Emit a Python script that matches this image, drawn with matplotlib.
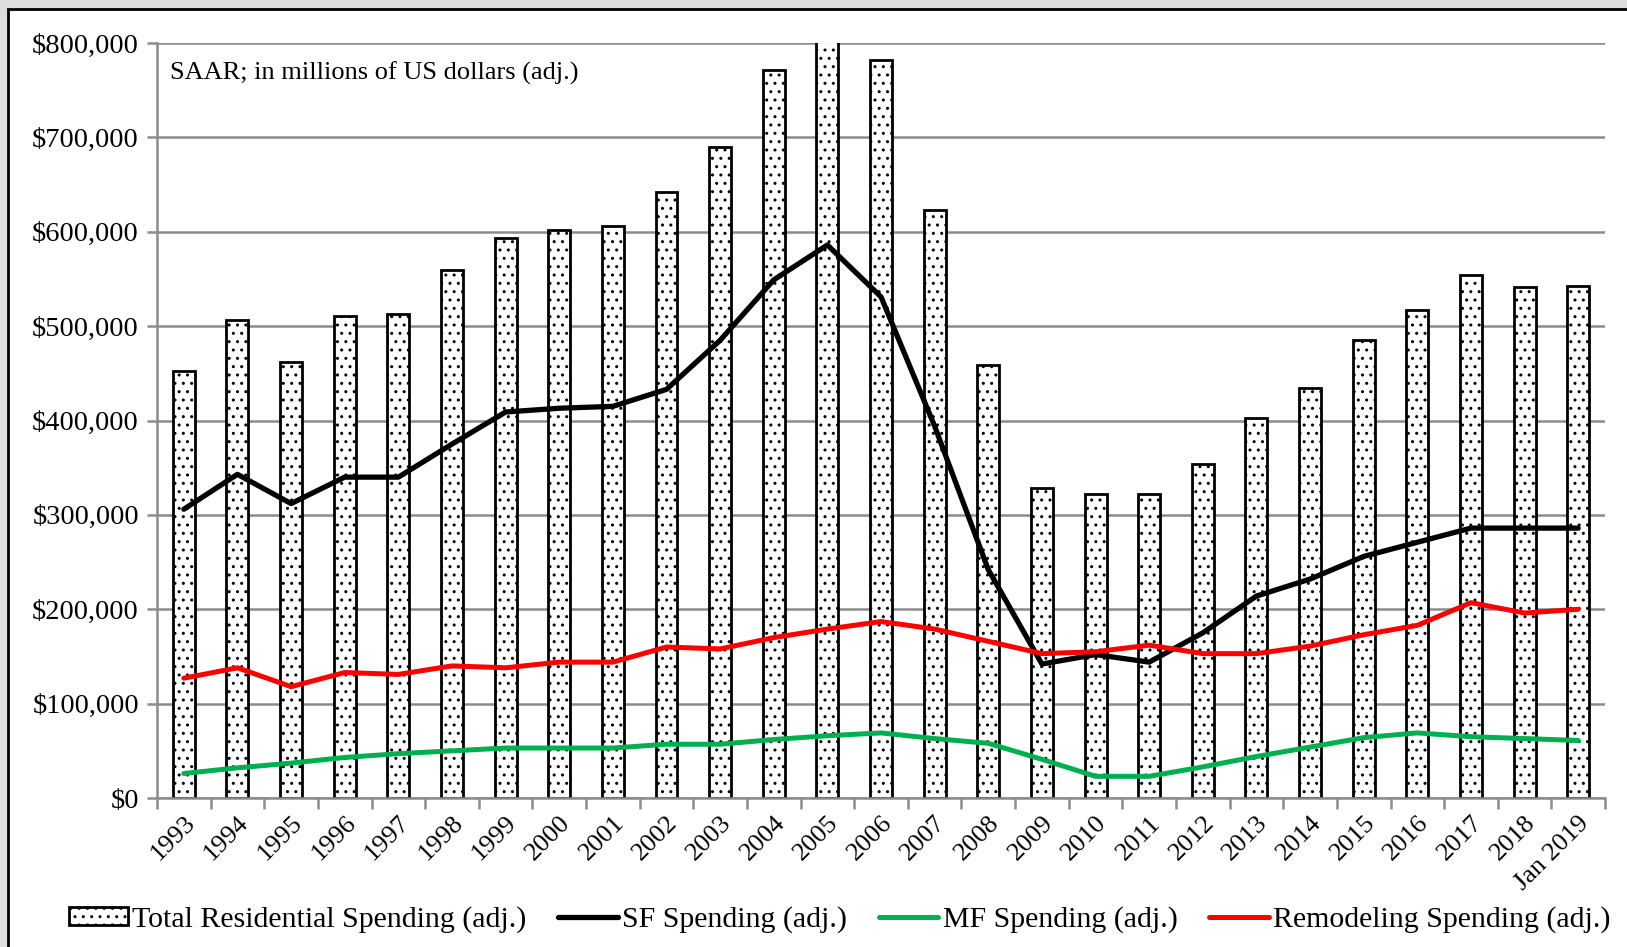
import matplotlib.pyplot as plt
from matplotlib.patches import Rectangle
from matplotlib.ticker import FuncFormatter, FixedLocator

plt.rcParams['font.family'] = ['Liberation Serif', 'DejaVu Serif']
plt.rcParams['hatch.linewidth'] = 1.0

years = [str(y) for y in range(1993, 2019)] + ['Jan 2019']

# SAAR, millions of US dollars (adj.)
total_res = [452000, 507000, 462000, 511000, 513000, 559000, 593000, 602000, 606000,
             642000, 690000, 771000, 830000, 782000, 623000, 459000, 329000, 322000,
             322000, 354000, 403000, 434000, 485000, 517000, 554000, 541000, 543000]
sf_spend = [306000, 343000, 312000, 340000, 340000, 375000, 409000, 413000, 415000,
            433000, 485000, 549000, 586000, 531000, 394000, 242000, 142000, 152000,
            144000, 175000, 214000, 232000, 256000, 271000, 286000, 286000, 286000]
mf_spend = [26000, 32000, 37000, 43000, 47000, 50000, 53000, 53000, 53000,
            57000, 57000, 62000, 66000, 69000, 63000, 58000, 41000, 23000,
            23000, 33000, 44000, 54000, 64000, 69000, 65000, 63000, 61000]
remodel = [127000, 138000, 118000, 133000, 131000, 140000, 138000, 144000, 144000,
           160000, 158000, 170000, 179000, 187000, 179000, 166000, 153000, 155000,
           162000, 153000, 153000, 161000, 173000, 183000, 207000, 196000, 200000]

fig = plt.figure(figsize=(16.27, 9.47), dpi=100, facecolor='#dedede')
# white panel with dark border
fig.patches.append(Rectangle((8 / 1627, -0.01), 1.0, 1 - 9 / 947 + 0.01,
                             transform=fig.transFigure, facecolor='white',
                             edgecolor='black', linewidth=2, zorder=-5))

ax = fig.add_axes([0.0965, 0.1573, 0.89, 0.7973])
ax.set_zorder(2)
ax.set_facecolor('none')
x = list(range(len(years)))

bars = ax.bar(x, total_res, width=0.41, color='white', edgecolor='black',
              linewidth=2, hatch='..', zorder=2)
sf_line, = ax.plot(x, sf_spend, color='black', lw=3.8, zorder=3,
                   solid_joinstyle='round', solid_capstyle='round')
mf_line, = ax.plot(x, mf_spend, color='#00b050', lw=3.6, zorder=3,
                   solid_joinstyle='round', solid_capstyle='round')
rm_line, = ax.plot(x, remodel, color='#ff0000', lw=3.6, zorder=3,
                   solid_joinstyle='round', solid_capstyle='round')

ax.set_xlim(-0.5, len(years) - 0.5)
ax.set_ylim(0, 800000)
ax.set_yticks(range(0, 800001, 100000))
ax.yaxis.set_major_formatter(FuncFormatter(lambda v, p: f'${v:,.0f}'))
ax.grid(axis='y', color='#8c8c8c', lw=1.8, zorder=1)
ax.set_axisbelow(True)

# tick marks at category edges, labels at centres
ax.xaxis.set_major_locator(FixedLocator([i - 0.5 for i in range(len(years) + 1)]))
ax.xaxis.set_minor_locator(FixedLocator(x))
ax.set_xticklabels([], minor=False)
ax.set_xticklabels(years, minor=True, rotation=45, ha='right',
                   rotation_mode='anchor', fontsize=19)
ax.tick_params(axis='x', which='major', length=8, width=1.8, color='#8c8c8c')
ax.tick_params(axis='x', which='minor', length=0, pad=10)
ax.tick_params(axis='y', length=7, width=1.8, color='#8c8c8c', labelsize=20.5, pad=6)

for s in ['top', 'right']:
    ax.spines[s].set_visible(False)
for s in ['left', 'bottom']:
    ax.spines[s].set_color('#8c8c8c')
    ax.spines[s].set_linewidth(1.8)

ax.text(0.009, 0.975, 'SAAR; in millions of US dollars (adj.)', transform=ax.transAxes,
        fontsize=19, va='top', ha='left')

fig.legend([bars, sf_line, mf_line, rm_line],
           ['Total Residential Spending (adj.)', 'SF Spending (adj.)',
            'MF Spending (adj.)', 'Remodeling Spending (adj.)'],
           loc='center', bbox_to_anchor=(0.516, 0.029), ncol=4, frameon=False,
           fontsize=21.5, handlelength=1.98, handletextpad=0.15, columnspacing=1.07,
           handleheight=0.55)

fig.savefig('out.png', dpi=100, facecolor=fig.get_facecolor())
